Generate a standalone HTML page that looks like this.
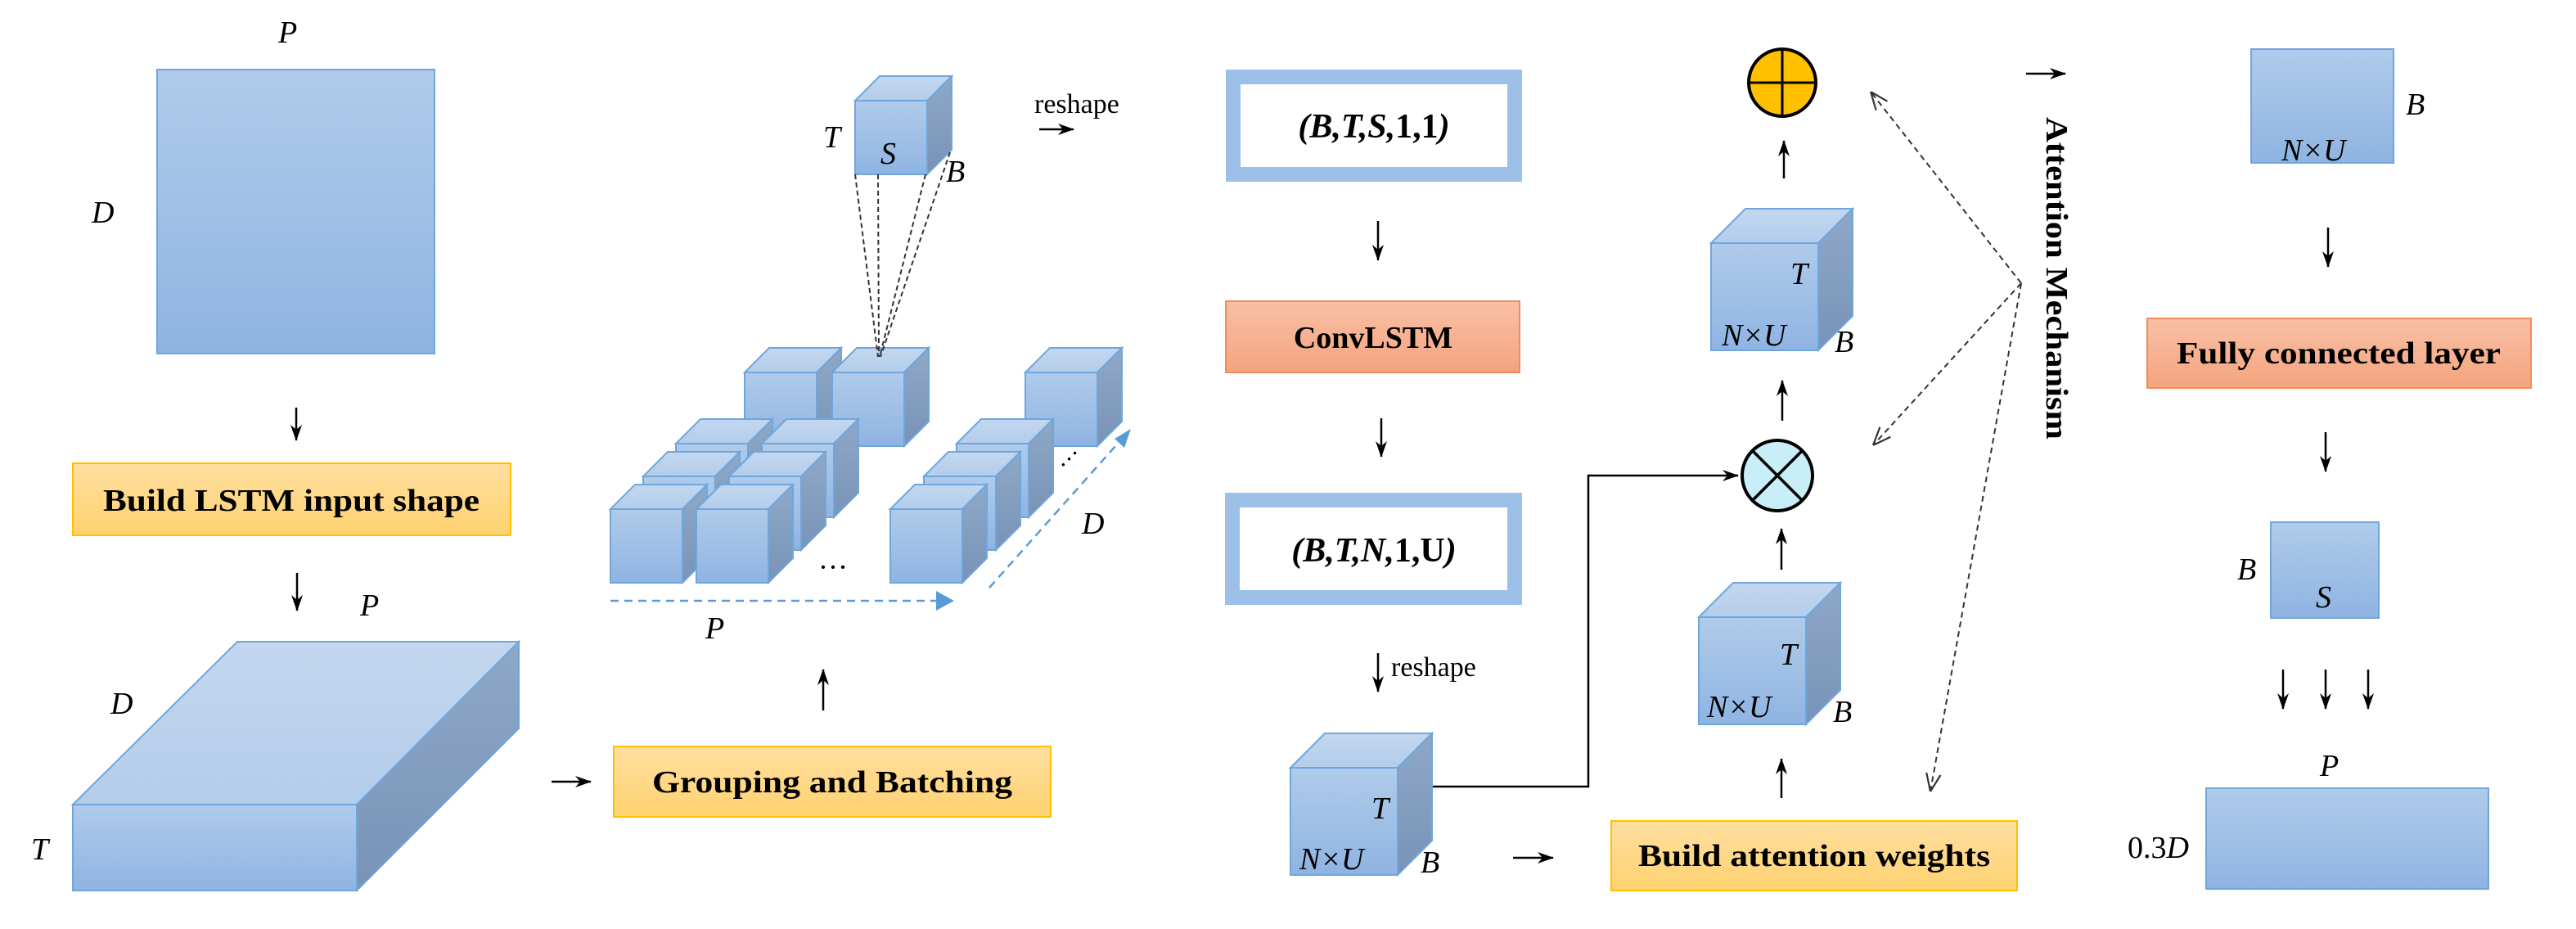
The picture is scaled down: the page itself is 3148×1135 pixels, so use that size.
<!DOCTYPE html>
<html><head><meta charset="utf-8"><style>
html,body{margin:0;padding:0;background:#fff;}
svg{display:block;}
text{font-family:"Liberation Serif",serif;}
.it{font-style:italic;font-size:38px;}
.bt{font-weight:bold;font-size:38px;}
</style></head><body>
<svg width="3148" height="1135" viewBox="0 0 3148 1135" xmlns="http://www.w3.org/2000/svg">
<defs>
<linearGradient id="fr" x1="0" y1="0" x2="0" y2="1"><stop offset="0" stop-color="#b0cbea"/><stop offset="1" stop-color="#8fb4e2"/></linearGradient>
<linearGradient id="tp" x1="0" y1="0" x2="0" y2="1"><stop offset="0" stop-color="#c3d7ef"/><stop offset="1" stop-color="#b3cdeb"/></linearGradient>
<linearGradient id="sd" x1="0" y1="0" x2="0" y2="1"><stop offset="0" stop-color="#8fa8c8"/><stop offset="1" stop-color="#7893b6"/></linearGradient>
<linearGradient id="yl" x1="0" y1="0" x2="0" y2="1"><stop offset="0" stop-color="#ffdfa0"/><stop offset="1" stop-color="#ffd270"/></linearGradient>
<linearGradient id="sl" x1="0" y1="0" x2="0" y2="1"><stop offset="0" stop-color="#f9c0a5"/><stop offset="1" stop-color="#f4a47f"/></linearGradient>
<marker id="ah" viewBox="0 0 20 14" refX="19" refY="7" markerWidth="20" markerHeight="14" orient="auto" markerUnits="userSpaceOnUse">
<path d="M0,0 L20,7 L0,14 L6,7 Z" fill="#000"/></marker>
<marker id="oa" viewBox="0 0 10 10" refX="10" refY="5" markerWidth="22" markerHeight="22" orient="auto" markerUnits="userSpaceOnUse">
<path d="M0,1 L10,5 L0,9" fill="none" stroke="#333" stroke-width="1"/></marker>
<g id="gc">
<polygon points="0,0 30,-30 118,-30 88,0" fill="url(#tp)" stroke="#6fa6dc" stroke-width="2"/>
<polygon points="88,0 118,-30 118,60 88,90" fill="url(#sd)" stroke="#6fa6dc" stroke-width="2"/>
<rect x="0" y="0" width="88" height="90" fill="url(#fr)" stroke="#6fa6dc" stroke-width="2"/>
</g>
<g id="bc">
<polygon points="0,0 42,-42 173,-42 131,0" fill="url(#tp)" stroke="#6fa6dc" stroke-width="2"/>
<polygon points="131,0 173,-42 173,89 131,131" fill="url(#sd)" stroke="#6fa6dc" stroke-width="2"/>
<rect x="0" y="0" width="131" height="131" fill="url(#fr)" stroke="#6fa6dc" stroke-width="2"/>
</g>
</defs>

<!-- left column -->
<text class="it" x="340" y="52">P</text>
<rect x="192" y="85" width="339" height="347" fill="url(#fr)" stroke="#6fa6dc" stroke-width="2"/>
<text class="it" x="112" y="272">D</text>
<line x1="362" y1="498" x2="362" y2="538" stroke="#000" stroke-width="2.5" marker-end="url(#ah)"/>
<rect x="89" y="566" width="535" height="88" fill="url(#yl)" stroke="#ffc000" stroke-width="2"/>
<text class="bt" x="126" y="624" textLength="460" lengthAdjust="spacingAndGlyphs">Build LSTM input  shape</text>
<line x1="363" y1="700" x2="363" y2="746" stroke="#000" stroke-width="2.5" marker-end="url(#ah)"/>
<text class="it" x="440" y="752">P</text>
<polygon points="89,983 290,784 634,784 436,983" fill="url(#tp)" stroke="#6fa6dc" stroke-width="2"/>
<polygon points="436,983 634,784 634,890 436,1088" fill="url(#sd)" stroke="#6fa6dc" stroke-width="2"/>
<rect x="89" y="983" width="347" height="105" fill="url(#fr)" stroke="#6fa6dc" stroke-width="2"/>
<text class="it" x="135" y="872">D</text>
<text class="it" x="38" y="1050">T</text>
<line x1="674" y1="955" x2="722" y2="955" stroke="#000" stroke-width="2.5" marker-end="url(#ah)"/>
<rect x="750" y="912" width="534" height="86" fill="url(#yl)" stroke="#ffc000" stroke-width="2"/>
<text class="bt" x="797" y="968" textLength="440" lengthAdjust="spacingAndGlyphs">Grouping  and Batching</text>
<line x1="1006" y1="868" x2="1006" y2="818" stroke="#000" stroke-width="2.5" marker-end="url(#ah)"/>

<!-- grid of cubes -->
<use href="#gc" x="910" y="455"/>
<use href="#gc" x="1017" y="455"/>
<use href="#gc" x="1253" y="455"/>
<use href="#gc" x="826" y="542"/>
<use href="#gc" x="931" y="542"/>
<use href="#gc" x="1169" y="542"/>
<use href="#gc" x="786" y="582"/>
<use href="#gc" x="891" y="582"/>
<use href="#gc" x="1129" y="582"/>
<use href="#gc" x="746" y="622"/>
<use href="#gc" x="851" y="622"/>
<use href="#gc" x="1088" y="622"/>
<text x="1000" y="705" font-size="36" font-family="Liberation Serif">···</text>
<text x="1292" y="572" font-size="30" font-family="Liberation Serif" transform="rotate(-45 1305 562)">···</text>
<line x1="746" y1="734" x2="1150" y2="734" stroke="#5b9bd5" stroke-width="2.5" stroke-dasharray="10,7"/>
<polygon points="1144,722 1166,734 1144,746" fill="#5b9bd5"/>
<text class="it" x="862" y="780">P</text>
<line x1="1209" y1="718" x2="1372" y2="535" stroke="#5b9bd5" stroke-width="2.5" stroke-dasharray="10,7"/>
<polygon points="1362,536 1382,524 1374,547" fill="#5b9bd5"/>
<text class="it" x="1322" y="652">D</text>

<!-- small cube -->
<use href="#gc" x="1045" y="123"/>
<g stroke="#333" stroke-width="2" stroke-dasharray="6,4" fill="none">
<line x1="1045" y1="213" x2="1073" y2="436"/>
<line x1="1073" y1="213" x2="1074" y2="436"/>
<line x1="1131" y1="213" x2="1075" y2="436"/>
<line x1="1161" y1="186" x2="1076" y2="436"/>
</g>
<text class="it" x="1006" y="180">T</text>
<text class="it" x="1076" y="200">S</text>
<text class="it" x="1156" y="222">B</text>
<text x="1264" y="138" font-size="34" font-family="Liberation Serif">reshape</text>
<line x1="1270" y1="158" x2="1312" y2="158" stroke="#000" stroke-width="2.5" marker-end="url(#ah)"/>

<!-- middle column -->
<rect x="1507" y="94" width="344" height="119" fill="#fff" stroke="#9dc0e8" stroke-width="18"/>
<text x="1679" y="168" text-anchor="middle" font-size="42" font-weight="bold" font-family="Liberation Serif"><tspan font-style="italic">(B,T,S,</tspan>1,1<tspan font-style="italic">)</tspan></text>
<line x1="1684" y1="270" x2="1684" y2="318" stroke="#000" stroke-width="2.5" marker-end="url(#ah)"/>
<rect x="1498" y="368" width="359" height="87" fill="url(#sl)" stroke="#f08c5a" stroke-width="2"/>
<text class="bt" x="1678" y="425" text-anchor="middle" font-size="38">ConvLSTM</text>
<line x1="1688" y1="511" x2="1688" y2="558" stroke="#000" stroke-width="2.5" marker-end="url(#ah)"/>
<rect x="1506" y="611" width="345" height="119" fill="#fff" stroke="#9dc0e8" stroke-width="18"/>
<text x="1679" y="686" text-anchor="middle" font-size="42" font-weight="bold" font-family="Liberation Serif"><tspan font-style="italic">(B,T,N,</tspan>1,U<tspan font-style="italic">)</tspan></text>
<line x1="1684" y1="798" x2="1684" y2="845" stroke="#000" stroke-width="2.5" marker-end="url(#ah)"/>
<text x="1700" y="826" font-size="34" font-family="Liberation Serif">reshape</text>
<use href="#bc" x="1577" y="938"/>
<text class="it" x="1676" y="1000">T</text>
<text class="it" x="1588" y="1062">N×U</text>
<text class="it" x="1736" y="1066">B</text>
<polyline points="1751,961 1941,961 1941,581 2124,581" fill="none" stroke="#000" stroke-width="2.5" marker-end="url(#ah)"/>
<line x1="1849" y1="1048" x2="1898" y2="1048" stroke="#000" stroke-width="2.5" marker-end="url(#ah)"/>
<rect x="1969" y="1003" width="496" height="85" fill="url(#yl)" stroke="#ffc000" stroke-width="2"/>
<text class="bt" x="2217" y="1058" text-anchor="middle" textLength="430" lengthAdjust="spacingAndGlyphs">Build attention weights</text>
<line x1="2177" y1="975" x2="2177" y2="927" stroke="#000" stroke-width="2.5" marker-end="url(#ah)"/>
<use href="#bc" x="2076" y="754"/>
<text class="it" x="2175" y="812">T</text>
<text class="it" x="2086" y="876">N×U</text>
<text class="it" x="2240" y="882">B</text>
<line x1="2177" y1="696" x2="2177" y2="646" stroke="#000" stroke-width="2.5" marker-end="url(#ah)"/>
<circle cx="2172" cy="581" r="43" fill="#c8eef8" stroke="#000" stroke-width="4"/>
<line x1="2142" y1="551" x2="2202" y2="611" stroke="#000" stroke-width="3.5"/>
<line x1="2202" y1="551" x2="2142" y2="611" stroke="#000" stroke-width="3.5"/>
<line x1="2178" y1="514" x2="2178" y2="465" stroke="#000" stroke-width="2.5" marker-end="url(#ah)"/>
<use href="#bc" x="2091" y="297"/>
<text class="it" x="2188" y="347">T</text>
<text class="it" x="2104" y="422">N×U</text>
<text class="it" x="2242" y="430">B</text>
<line x1="2180" y1="218" x2="2180" y2="172" stroke="#000" stroke-width="2.5" marker-end="url(#ah)"/>
<circle cx="2178" cy="101" r="41" fill="#ffc000" stroke="#000" stroke-width="4"/>
<line x1="2137" y1="101" x2="2219" y2="101" stroke="#000" stroke-width="3"/>
<line x1="2178" y1="60" x2="2178" y2="142" stroke="#000" stroke-width="3"/>

<!-- attention dashed -->
<g stroke="#333" stroke-width="2" stroke-dasharray="7,5" fill="none">
<line x1="2470" y1="346" x2="2286" y2="112" marker-end="url(#oa)"/>
<line x1="2470" y1="346" x2="2289" y2="544" marker-end="url(#oa)"/>
<line x1="2470" y1="346" x2="2359" y2="967" marker-end="url(#oa)"/>
</g>
<line x1="2476" y1="90" x2="2524" y2="90" stroke="#000" stroke-width="2.5" marker-end="url(#ah)"/>
<text class="bt" x="0" y="0" font-size="42" textLength="394" lengthAdjust="spacingAndGlyphs" transform="translate(2501 143) rotate(90)">Attention Mechanism</text>

<!-- right column -->
<rect x="2751" y="60" width="174" height="139" fill="url(#fr)" stroke="#6fa6dc" stroke-width="2"/>
<text class="it" x="2940" y="140">B</text>
<text class="it" x="2788" y="196">N×U</text>
<line x1="2845" y1="278" x2="2845" y2="326" stroke="#000" stroke-width="2.5" marker-end="url(#ah)"/>
<rect x="2624" y="389" width="469" height="85" fill="url(#sl)" stroke="#f08c5a" stroke-width="2"/>
<text class="bt" x="2858" y="444" text-anchor="middle" textLength="396" lengthAdjust="spacingAndGlyphs">Fully connected layer</text>
<line x1="2842" y1="528" x2="2842" y2="576" stroke="#000" stroke-width="2.5" marker-end="url(#ah)"/>
<rect x="2775" y="638" width="132" height="117" fill="url(#fr)" stroke="#6fa6dc" stroke-width="2"/>
<text class="it" x="2734" y="708">B</text>
<text class="it" x="2830" y="742">S</text>
<line x1="2790" y1="818" x2="2790" y2="866" stroke="#000" stroke-width="2.5" marker-end="url(#ah)"/>
<line x1="2842" y1="818" x2="2842" y2="866" stroke="#000" stroke-width="2.5" marker-end="url(#ah)"/>
<line x1="2894" y1="818" x2="2894" y2="866" stroke="#000" stroke-width="2.5" marker-end="url(#ah)"/>
<text class="it" x="2835" y="948">P</text>
<rect x="2696" y="963" width="345" height="123" fill="url(#fr)" stroke="#6fa6dc" stroke-width="2"/>
<text x="2600" y="1048" font-size="38" font-family="Liberation Serif">0.3<tspan font-style="italic">D</tspan></text>
</svg>
</body></html>
